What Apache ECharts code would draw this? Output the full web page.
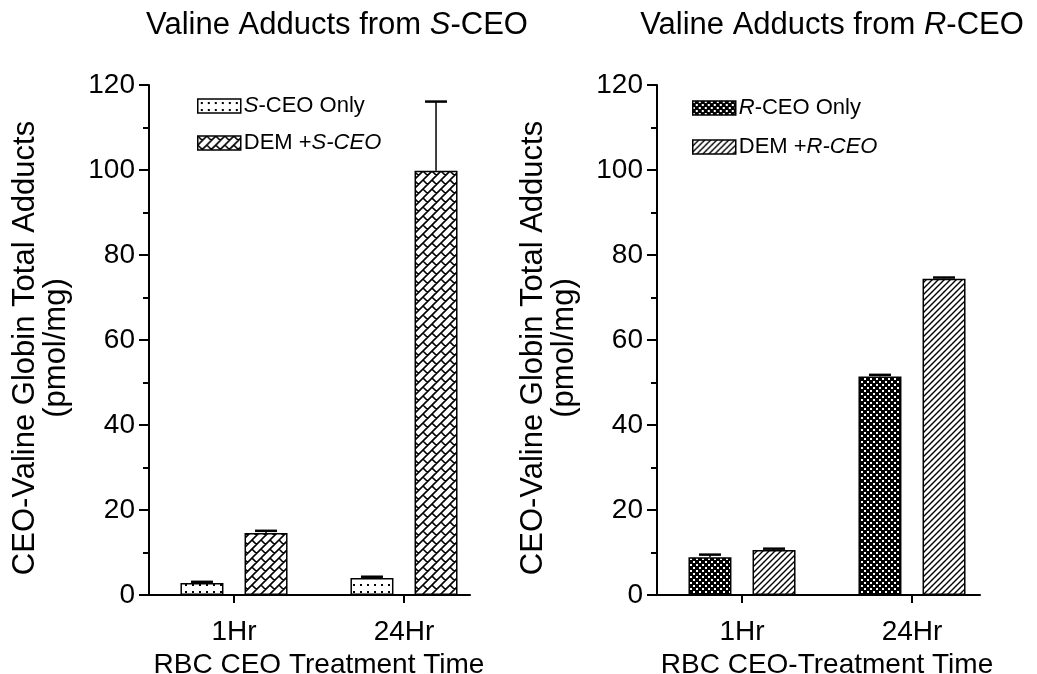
<!DOCTYPE html>
<html>
<head>
<meta charset="utf-8">
<script src="https://cdn.jsdelivr.net/npm/echarts@6/dist/echarts.min.js"></script>
<style>
  html, body { margin: 0; padding: 0; background: #fff; }
  #chart { width: 1037px; height: 674px; }
</style>
</head>
<body>
<div id="chart"></div>
<script>
// Treatment times on the x axis
const categories = ['1Hr', '24Hr'];

// Valine adducts, pmol/mg (mean and upper error)
const sOnly = [2.8, 4.0];
const sOnlyErr = [0.3, 0.3];
const demS = [14.6, 99.8];
const demSErr = [0.5, 16.3];

const rOnly = [8.9, 51.4];
const rOnlyErr = [0.6, 0.4];
const demR = [10.6, 74.4];
const demRErr = [0.3, 0.3];

// Y axis scale
const yMin = 0;
const yMax = 120;
const yStep = 20;

const FONT = '"Liberation Sans", Arial, Helvetica, sans-serif';
const BAR_W = 43;
const GAP_RATIO = 0.49;
const CAP_W = 22;

// Fill patterns drawn on small tiles
function makePattern(w, h, bg, draw) {
  const c = document.createElement('canvas');
  c.width = w; c.height = h;
  const ctx = c.getContext('2d');
  ctx.fillStyle = bg;
  ctx.fillRect(0, 0, w, h);
  draw(ctx, w, h);
  return { image: c, repeat: 'repeat' };
}

const dotFill = makePattern(7, 7, '#fff', (ctx) => {
  ctx.fillStyle = '#000';
  ctx.fillRect(3, 3, 2, 2);
});

// Slanted brick pattern: long "/" courses with staggered "\" joints
const brickFill = makePattern(18, 18, '#fff', (ctx) => {
  ctx.strokeStyle = '#000';
  ctx.lineWidth = 1.6;
  const offs = [-18, 0, 18];
  ctx.beginPath();
  for (let k = -1; k <= 5; k++) {
    ctx.moveTo(-18, 9 * k + 18);
    ctx.lineTo(9 * k + 18, -18);
  }
  const joints = [[0, 0, 4.5, 4.5], [9, -9, 13.5, -4.5], [9, 0, 13.5, 4.5], [0, 9, 4.5, 13.5]];
  joints.forEach(s => {
    offs.forEach(dx => offs.forEach(dy => {
      ctx.moveTo(s[0] + dx, s[1] + dy);
      ctx.lineTo(s[2] + dx, s[3] + dy);
    }));
  });
  ctx.stroke();
});

const checkFill = makePattern(6, 6, '#000', (ctx) => {
  ctx.fillStyle = '#fff';
  ctx.fillRect(0, 0, 2, 2);
  ctx.fillRect(3, 3, 2, 2);
});

const stripeFill = makePattern(6, 6, '#fff', (ctx) => {
  ctx.strokeStyle = '#000';
  ctx.lineWidth = 1.4;
  ctx.beginPath();
  ctx.moveTo(-1, 7); ctx.lineTo(7, -1);
  ctx.moveTo(-1, 1); ctx.lineTo(1, -1);
  ctx.moveTo(5, 7); ctx.lineTo(7, 5);
  ctx.stroke();
});

function barSeries(name, data, fill, axis) {
  return {
    name: name,
    type: 'bar',
    xAxisIndex: axis,
    yAxisIndex: axis,
    data: data,
    barWidth: BAR_W,
    barGap: (GAP_RATIO * 100) + '%',
    itemStyle: { color: fill, borderColor: '#000', borderWidth: 1.5 },
    emphasis: { disabled: true },
    silent: true
  };
}

// Upper error bar with cap, placed over the matching bar slot
function errorSeries(values, errs, slot, axis) {
  return {
    type: 'custom',
    xAxisIndex: axis,
    yAxisIndex: axis,
    z: 5,
    silent: true,
    data: values.map((v, i) => [i, v, errs[i]]),
    encode: { x: 0, y: 1 },
    renderItem: function (params, api) {
      const i = api.value(0), v = api.value(1), e = api.value(2);
      const base = api.coord([i, v]);
      const top = api.coord([i, v + e]);
      const shift = (slot - 0.5) * (BAR_W + BAR_W * GAP_RATIO);
      const x = base[0] + shift;
      return {
        type: 'group',
        children: [
          { type: 'line', shape: { x1: x, y1: base[1], x2: x, y2: top[1] },
            style: { stroke: '#000', lineWidth: 1.5 } },
          { type: 'line', shape: { x1: x - CAP_W / 2, y1: top[1], x2: x + CAP_W / 2, y2: top[1] },
            style: { stroke: '#000', lineWidth: 2.5 } }
        ]
      };
    }
  };
}

function categoryAxis(grid, name) {
  return {
    type: 'category',
    gridIndex: grid,
    data: categories,
    name: name,
    nameLocation: 'middle',
    nameGap: 55,
    nameTextStyle: { fontSize: 28, color: '#000', fontFamily: FONT },
    axisLine: { show: false },
    axisTick: { show: true, alignWithLabel: true, length: 8, lineStyle: { color: '#000', width: 2 } },
    axisLabel: { fontSize: 28, color: '#000', fontFamily: FONT, margin: 23 },
    splitLine: { show: false }
  };
}

function valueAxis(grid) {
  return {
    type: 'value',
    gridIndex: grid,
    min: yMin,
    max: yMax,
    interval: yStep,
    name: 'CEO-Valine Globin Total Adducts\n(pmol/mg)',
    nameLocation: 'middle',
    nameRotate: 90,
    nameGap: 77,
    nameTextStyle: { fontSize: 31, color: '#000', fontFamily: FONT, lineHeight: 31, padding: [0, 16, 0, 0] },
    axisLine: { show: true, onZero: false, lineStyle: { color: '#000', width: 2 } },
    axisTick: { show: true, length: 10, lineStyle: { color: '#000', width: 2 } },
    minorTick: { show: true, splitNumber: 2, length: 6, lineStyle: { color: '#000', width: 2 } },
    axisLabel: { fontSize: 28, color: '#000', fontFamily: FONT, margin: 14 },
    splitLine: { show: false }
  };
}

// Plain baseline drawn a little shorter than the category band
function baselineAxis(grid) {
  return {
    type: 'value', gridIndex: grid, min: 0, max: 1, position: 'bottom',
    axisLine: { show: true, onZero: false, lineStyle: { color: '#000', width: 2 } },
    axisTick: { show: false }, axisLabel: { show: false }, splitLine: { show: false }
  };
}

function hiddenAxis(grid) {
  return { type: 'value', gridIndex: grid, show: false, min: 0, max: 1 };
}

const italic = { fontStyle: 'italic', fontSize: 22, fontFamily: FONT, color: '#000' };
const titleItalic = { fontStyle: 'italic', fontSize: 31, fontFamily: FONT, color: '#000' };

function legend(left, top, gap, names, labels) {
  return {
    orient: 'vertical',
    left: left,
    top: top,
    data: names,
    itemWidth: 43,
    itemHeight: 14,
    itemGap: gap,
    icon: 'rect',
    itemStyle: { borderColor: '#000', borderWidth: 1.5 },
    selectedMode: false,
    textStyle: { fontSize: 22, color: '#000', fontFamily: FONT, padding: [0, 0, 0, -2], rich: { i: italic } },
    formatter: function (n) { return labels[names.indexOf(n)]; }
  };
}

const chart = echarts.init(document.getElementById('chart'), null, { renderer: 'canvas' });

chart.setOption({
  animation: false,
  backgroundColor: '#fff',
  title: [
    { text: 'Valine Adducts from {i|S}-CEO', left: 332, top: 5, textAlign: 'center',
      textStyle: { fontSize: 31, fontWeight: 'normal', color: '#000', fontFamily: FONT, rich: { i: titleItalic } } },
    { text: 'Valine Adducts from {i|R}-CEO', left: 827, top: 5, textAlign: 'center',
      textStyle: { fontSize: 31, fontWeight: 'normal', color: '#000', fontFamily: FONT, rich: { i: titleItalic } } }
  ],
  legend: [
    legend(192, 90, 15, ['S-CEO Only', 'DEM +S-CEO'], ['{i|S}-CEO Only', 'DEM +{i|S-CEO}']),
    legend(687, 92, 17, ['R-CEO Only', 'DEM +R-CEO'], ['{i|R}-CEO Only', 'DEM +{i|R-CEO}'])
  ],
  grid: [
    { left: 149, top: 85, width: 340, height: 510, outerBoundsMode: 'none' },
    { left: 657, top: 85, width: 340, height: 510, outerBoundsMode: 'none' },
    { left: 149, top: 85, width: 321, height: 510, outerBoundsMode: 'none' },
    { left: 657, top: 85, width: 323, height: 510, outerBoundsMode: 'none' }
  ],
  xAxis: [
    categoryAxis(0, 'RBC CEO Treatment Time'),
    categoryAxis(1, 'RBC CEO-Treatment Time'),
    baselineAxis(2),
    baselineAxis(3)
  ],
  yAxis: [
    valueAxis(0),
    valueAxis(1),
    hiddenAxis(2),
    hiddenAxis(3)
  ],
  series: [
    barSeries('S-CEO Only', sOnly, dotFill, 0),
    barSeries('DEM +S-CEO', demS, brickFill, 0),
    barSeries('R-CEO Only', rOnly, checkFill, 1),
    barSeries('DEM +R-CEO', demR, stripeFill, 1),
    errorSeries(sOnly, sOnlyErr, 0, 0),
    errorSeries(demS, demSErr, 1, 0),
    errorSeries(rOnly, rOnlyErr, 0, 1),
    errorSeries(demR, demRErr, 1, 1)
  ]
});
</script>
</body>
</html>
